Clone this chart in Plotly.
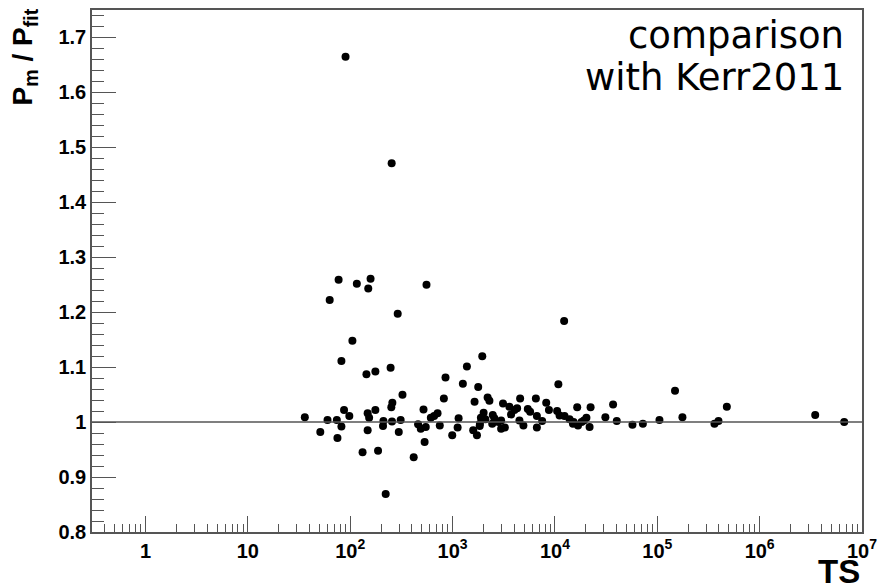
import plotly.graph_objects as go
import math

# ---- data ----
ts = [90, 254, 77, 116, 158, 150, 556, 63, 291, 105,
      82, 144, 176, 248, 324, 258, 252, 520, 36, 87,
      98, 60, 74, 148, 153, 176, 211, 209, 256, 311,
      82, 51, 75, 148, 298, 460, 489, 533, 132, 187,
      417, 222, 1950, 1380, 853, 1260, 1780, 822, 2200, 2290,
      1640, 3110, 4570, 3590, 4270, 5430, 713, 660, 613, 1145,
      2010, 2470, 1890, 3730, 547, 750, 1120, 1840, 2440, 2800,
      3240, 4500, 4920, 992, 1590, 1730, 2090, 2560, 2980, 12300,
      6510, 8220, 8740, 5720, 6660, 10500, 11100, 12400, 13900, 15200,
      16800, 16500, 22300, 20300, 21800, 18200, 7500, 6660, 31100, 37000,
      40200, 57200, 72300, 105000, 149000, 176000, 362000, 396000, 478000, 3490000,
      6700000, 10800, 4020, 15000, 19200, 1850, 2980]
ratio = [1.665, 1.471, 1.259, 1.252, 1.261, 1.243, 1.250, 1.222, 1.197, 1.148,
         1.111, 1.087, 1.092, 1.099, 1.050, 1.035, 1.027, 1.023, 1.009, 1.022,
         1.011, 1.004, 1.004, 1.016, 1.008, 1.022, 1.002, 0.993, 1.001, 1.004,
         0.992, 0.982, 0.971, 0.985, 0.982, 0.996, 0.988, 0.964, 0.945, 0.948,
         0.936, 0.869, 1.120, 1.101, 1.081, 1.070, 1.064, 1.043, 1.045, 1.039,
         1.037, 1.034, 1.043, 1.028, 1.025, 1.024, 1.016, 1.011, 1.008, 1.007,
         1.017, 1.013, 1.008, 1.014, 0.991, 0.994, 0.990, 0.993, 0.997, 1.000,
         0.990, 1.003, 0.994, 0.976, 0.985, 0.976, 1.005, 1.007, 1.003, 1.184,
         1.043, 1.035, 1.022, 1.019, 1.011, 1.020, 1.012, 1.011, 1.005, 1.000,
         0.994, 1.027, 1.027, 1.008, 0.991, 1.000, 1.002, 0.990, 1.009, 1.032,
         1.002, 0.995, 0.997, 1.004, 1.057, 1.009, 0.997, 1.002, 1.028, 1.013,
         1.000, 1.069, 1.022, 0.997, 1.003, 0.997, 0.988]

ref_level = 1.0

x_tickvals = [1, 10, 100, 1000, 10000, 100000, 1000000, 10000000]
x_ticktext = ["1", "10", "10<sup>2</sup>", "10<sup>3</sup>", "10<sup>4</sup>",
              "10<sup>5</sup>", "10<sup>6</sup>", "10<sup>7</sup>"]
y_tickvals = [0.8, 0.9, 1.0, 1.1, 1.2, 1.3, 1.4, 1.5, 1.6, 1.7]
y_ticktext = ["0.8", "0.9", "1", "1.1", "1.2", "1.3", "1.4", "1.5", "1.6", "1.7"]

x_range = [0.3, 1e7]
y_range = [0.8, 1.75]

x_minor = [m * 10 ** k for k in range(-1, 7) for m in range(2, 10) if m * 10 ** k > x_range[0]]

AX = "#555555"
tickfont = dict(family="Liberation Sans, Arial, sans-serif", size=20, color="black", weight="bold")

fig = go.Figure()
fig.add_trace(go.Scatter(
    x=ts, y=ratio, mode="markers",
    marker=dict(color="black", size=8, line=dict(width=0)),
    showlegend=False, hoverinfo="x+y"))

fig.add_shape(type="line", xref="paper", x0=0, x1=1, yref="y", y0=ref_level, y1=ref_level,
              line=dict(color=AX, width=1.5))

fig.update_layout(
    width=877, height=587,
    margin=dict(l=92, r=15, t=10, b=55, autoexpand=False),
    paper_bgcolor="white", plot_bgcolor="white",
    xaxis=dict(type="log", range=[math.log10(x_range[0]), math.log10(x_range[1])],
               automargin=False,
               tickmode="array", tickvals=x_tickvals, ticktext=x_ticktext,
               ticks="inside", ticklen=16, tickwidth=1.2, tickcolor=AX,
               showline=True, linecolor=AX, linewidth=1.5, mirror=True,
               showgrid=False, zeroline=False, tickfont=tickfont,
               ticklabeloverflow="allow",
               minor=dict(tickmode="array", tickvals=x_minor, ticks="inside",
                          ticklen=8, tickwidth=1.2, tickcolor=AX, showgrid=False)),
    yaxis=dict(range=y_range, tickmode="array", tickvals=y_tickvals, ticktext=y_ticktext,
               automargin=False,
               ticks="inside", ticklen=24, tickwidth=1.2, tickcolor=AX,
               showline=True, linecolor=AX, linewidth=1.5, mirror=True,
               showgrid=False, zeroline=False, tickfont=tickfont,
               ticklabeloverflow="allow",
               minor=dict(tickmode="linear", tick0=0.8, dtick=0.02, ticks="inside",
                          ticklen=12, tickwidth=1.2, tickcolor=AX, showgrid=False)),
    annotations=[
        dict(text="comparison", xref="paper", yref="paper", x=0.979, y=0.9521,
             xanchor="right", yanchor="middle", showarrow=False,
             font=dict(family="DejaVu Sans", size=37, color="black")),
        dict(text="with Kerr2011", xref="paper", yref="paper", x=0.979, y=0.8716,
             xanchor="right", yanchor="middle", showarrow=False,
             font=dict(family="DejaVu Sans", size=37, color="black")),
        dict(text="<b>P<sub>m</sub> / P<sub>fit</sub></b>", xref="paper", yref="paper",
             x=-0.0883, y=1.006, xanchor="center", yanchor="top", textangle=-90,
             showarrow=False, font=dict(family="Liberation Sans, Arial", size=28, color="black")),
        dict(text="<b>TS</b>", xref="paper", yref="paper", x=1.0, y=-0.0765,
             xanchor="right", yanchor="middle", showarrow=False,
             font=dict(family="Liberation Sans, Arial", size=33, color="black")),
    ],
)

fig.write_html("out.html")
